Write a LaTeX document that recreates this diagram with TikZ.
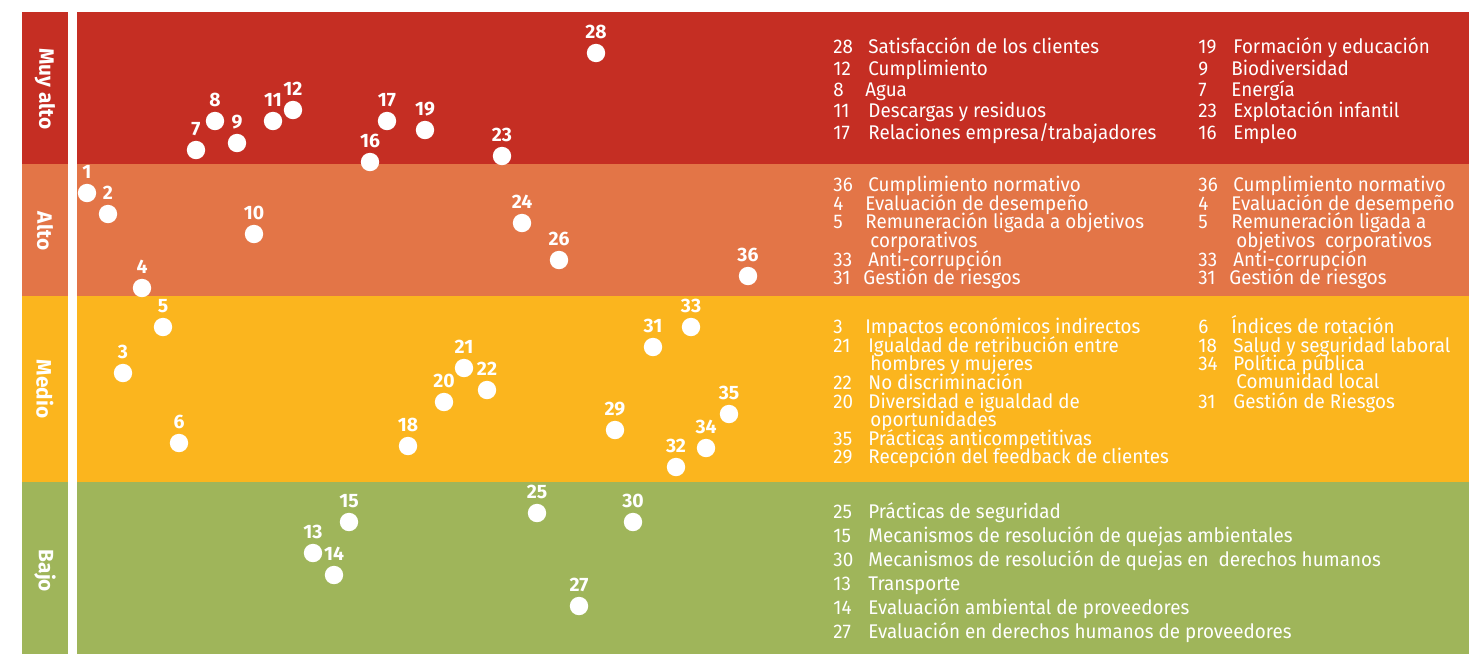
\documentclass[tikz,border=0pt]{standalone}
\usepackage{fontspec}
\setmainfont{Fira Sans}
\newfontfamily\legfont{Fira Sans}[FakeStretch=0.95]
\definecolor{cvh}{RGB}{197,46,35}
\definecolor{chi}{RGB}{227,117,71}
\definecolor{cme}{RGB}{251,181,30}
\definecolor{clo}{RGB}{159,181,90}
\begin{document}
\begin{tikzpicture}[x=0.5pt,y=-0.5pt,
  dot/.style={circle,fill=white,inner sep=0pt,minimum size=9.2pt},
  lab/.style={text=white,font=\fontsize{9.7}{10}\selectfont\bfseries,inner sep=0pt},
  leg/.style={text=white,font=\legfont\fontsize{9.9}{11}\selectfont,inner sep=0pt,anchor=base west},
  side/.style={text=white,font=\fontsize{10.4}{12}\selectfont\bfseries,rotate=-90,inner sep=0pt}]
\useasboundingbox (0,0) rectangle (1469,654);
\fill[white] (0,0) rectangle (1469,654);
% bands
\fill[cvh] (22,12) rectangle (68,164);  \fill[cvh] (77,12) rectangle (1469,164);
\fill[chi] (22,164) rectangle (68,296); \fill[chi] (77,164) rectangle (1469,296);
\fill[cme] (22,296) rectangle (68,482); \fill[cme] (77,296) rectangle (1469,482);
\fill[clo] (22,482) rectangle (68,654); \fill[clo] (77,482) rectangle (1469,654);
% side labels
\node[side] (smuy) at (45,89) {Muy alto};
\node[side] (salt) at (45,231) {Alto};
\node[side] (smed) at (45,389) {Medio};
\node[side] (sbaj) at (45,571) {Bajo};
% dots
\foreach \n/\x/\y in {1/87/193,2/108/214,3/123/373,4/142/288,5/163/327,6/179/443,
  7/196/150,8/215/121,9/237/143,10/254/234,11/273/121,12/293/110,13/313/553,
  14/334/575,15/349/522,16/370/162,17/387/121,18/408/446,19/425/130,20/444/402,
  21/464/368,22/487/390,23/502/156,24/522/223,25/537/513,26/559/260,27/579/606,
  28/596/53,29/615/430,30/633/522,31/653/347,32/676/467,33/691/327,34/706/448,
  35/729/414,36/748/276}{
  \node[dot] (d\n) at (\x,\y) {};
  \node[lab] (l\n) at (\x,\y-21) {\n};
}
% legend block 1 (Muy alto)
\node[leg] (an1) at (833,53) {28};  \node[leg] (at1) at (868,53) {Satisfacción de los clientes};
\node[leg] (an2) at (833,75) {12};  \node[leg] (at2) at (868,75) {Cumplimiento};
\node[leg] (an3) at (833,96) {8};   \node[leg] (at3) at (865,96) {Agua};
\node[leg] (an4) at (833,117) {11}; \node[leg] (at4) at (868,117) {Descargas y residuos};
\node[leg] (an5) at (833,139) {17}; \node[leg] (at5) at (868,139) {Relaciones empresa/trabajadores};
\node[leg] (bn1) at (1198,53) {19};  \node[leg] (bt1) at (1233,53) {Formación y educación};
\node[leg] (bn2) at (1198,75) {9};   \node[leg] (bt2) at (1231,75) {Biodiversidad};
\node[leg] (bn3) at (1198,96) {7};   \node[leg] (bt3) at (1231,96) {Energía};
\node[leg] (bn4) at (1198,117) {23}; \node[leg] (bt4) at (1233,117) {Explotación infantil};
\node[leg] (bn5) at (1198,139) {16}; \node[leg] (bt5) at (1233,139) {Empleo};
% legend block 2 (Alto)
\node[leg] (cn1) at (833,191) {36}; \node[leg] (ct1) at (868,191) {Cumplimiento normativo};
\node[leg] (cn2) at (833,210) {4};  \node[leg] (ct2) at (865,210) {Evaluación de desempeño};
\node[leg] (cn3) at (833,228) {5};  \node[leg] (ct3) at (865,228) {Remuneración ligada a objetivos};
\node[leg] (ct4) at (870,247) {corporativos};
\node[leg] (cn5) at (833,266) {33}; \node[leg] (ct5) at (868,266) {Anti-corrupción};
\node[leg] (cn6) at (833,284) {31}; \node[leg] (ct6) at (863,284) {Gestión de riesgos};
\node[leg] (dn1) at (1198,191) {36}; \node[leg] (dt1) at (1233,191) {Cumplimiento normativo};
\node[leg] (dn2) at (1198,210) {4};  \node[leg] (dt2) at (1231,210) {Evaluación de desempeño};
\node[leg] (dn3) at (1198,228) {5};  \node[leg] (dt3) at (1231,228) {Remuneración ligada a};
\node[leg] (dt4) at (1236,247) {objetivos~ corporativos};
\node[leg] (dn5) at (1198,266) {33}; \node[leg] (dt5) at (1233,266) {Anti-corrupción};
\node[leg] (dn6) at (1198,284) {31}; \node[leg] (dt6) at (1229,284) {Gestión de riesgos};
% legend block 3 (Medio)
\node[leg] (en1) at (833,333) {3};  \node[leg] (et1) at (865,333) {Impactos económicos indirectos};
\node[leg] (en2) at (833,352) {21}; \node[leg] (et2) at (868,352) {Igualdad de retribución entre};
\node[leg] (et3) at (870,370) {hombres y mujeres};
\node[leg] (en4) at (833,389) {22}; \node[leg] (et4) at (868,389) {No discriminación};
\node[leg] (en5) at (833,408) {20}; \node[leg] (et5) at (868,408) {Diversidad e igualdad de};
\node[leg] (et6) at (870,426) {oportunidades};
\node[leg] (en7) at (833,445) {35}; \node[leg] (et7) at (868,445) {Prácticas anticompetitivas};
\node[leg] (en8) at (833,463) {29}; \node[leg] (et8) at (868,463) {Recepción del feedback de clientes};
\node[leg] (fn1) at (1198,333) {6};  \node[leg] (ft1) at (1231,333) {Índices de rotación};
\node[leg] (fn2) at (1198,352) {18}; \node[leg] (ft2) at (1233,352) {Salud y seguridad laboral};
\node[leg] (fn3) at (1198,370) {34}; \node[leg] (ft3) at (1233,370) {Política pública};
\node[leg] (ft4) at (1236,388) {Comunidad local};
\node[leg] (fn5) at (1198,408) {31}; \node[leg] (ft5) at (1233,408) {Gestión de Riesgos};
% legend block 4 (Bajo)
\node[leg] (gn1) at (833,518) {25}; \node[leg] (gt1) at (868,518) {Prácticas de seguridad};
\node[leg] (gn2) at (833,542) {15}; \node[leg] (gt2) at (868,542) {Mecanismos de resolución de quejas ambientales};
\node[leg] (gn3) at (833,566) {30}; \node[leg] (gt3) at (868,566) {Mecanismos de resolución de quejas en~ derechos humanos};
\node[leg] (gn4) at (833,590) {13}; \node[leg] (gt4) at (868,590) {Transporte};
\node[leg] (gn5) at (833,614) {14}; \node[leg] (gt5) at (868,614) {Evaluación ambiental de proveedores};
\node[leg] (gn6) at (833,638) {27}; \node[leg] (gt6) at (868,638) {Evaluación en derechos humanos de proveedores};
\end{tikzpicture}
\end{document}
